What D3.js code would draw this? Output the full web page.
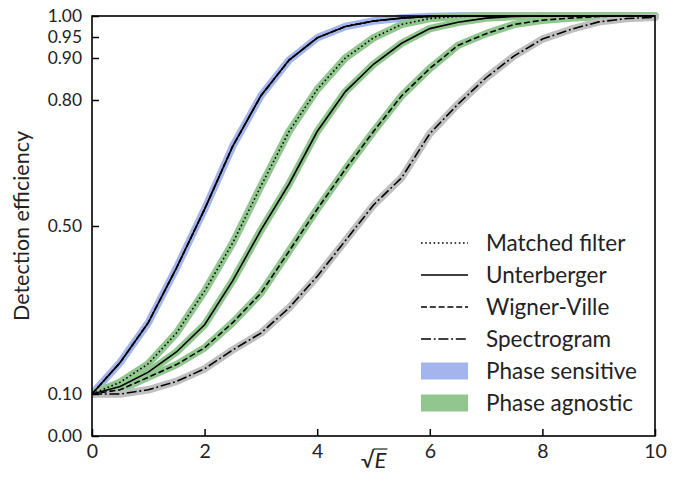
<!DOCTYPE html>
<html>
<head>
<meta charset="utf-8">
<script src="https://cdn.jsdelivr.net/npm/d3@7"></script>
<style>
  html, body { margin: 0; padding: 0; background: #fff; }
  svg text { font-family: Lato, "Open Sans", sans-serif; fill: #222; }
</style>
</head>
<body>
<svg id="chart" width="694" height="497"></svg>
<script>
// ---- data ----
const sqrtE = [0, 0.5, 1, 1.5, 2, 2.5, 3, 3.5, 4, 4.5, 5, 5.5, 6, 6.5, 7, 7.5, 8, 8.5, 9, 9.5, 10];
const phaseSensitive = [0.10, 0.175, 0.27, 0.40, 0.54, 0.69, 0.81, 0.895, 0.948, 0.975, 0.988, 0.995, 0.999, 1, 1, 1, 1, 1, 1, 1, 1];
const matchedAgnostic = [0.10, 0.128, 0.172, 0.245, 0.345, 0.46, 0.595, 0.725, 0.825, 0.9, 0.948, 0.98, 0.994, 0.999, 1, 1, 1, 1, 1, 1, 1];
const unterbergerAgnostic = [0.10, 0.118, 0.152, 0.20, 0.265, 0.37, 0.49, 0.60, 0.725, 0.82, 0.885, 0.935, 0.97, 0.985, 0.995, 0.999, 1, 1, 1, 1, 1];
const wignerAgnostic = [0.10, 0.11, 0.14, 0.17, 0.21, 0.27, 0.34, 0.44, 0.54, 0.635, 0.725, 0.81, 0.875, 0.93, 0.958, 0.98, 0.99, 0.995, 0.999, 1, 1];
const spectrogram = [0.10, 0.10, 0.11, 0.13, 0.16, 0.205, 0.245, 0.305, 0.38, 0.465, 0.55, 0.615, 0.72, 0.79, 0.853, 0.905, 0.945, 0.968, 0.986, 0.994, 0.997];
const xTicks = [0, 2, 4, 6, 8, 10];
const yTicks = [0.00, 0.10, 0.50, 0.80, 0.90, 0.95, 1.00];
const legendLabels = ["Matched filter", "Unterberger", "Wigner-Ville", "Spectrogram", "Phase sensitive", "Phase agnostic"];

// ---- layout ----
const svg = d3.select("#chart");
const L = 92, R = 655, T = 16, B = 436;
const x = d3.scaleLinear().domain([0, 10]).range([L, R]);
const y = d3.scaleLinear().domain([0, 1]).range([B, T]);

const colBlue = "#a3b5ec", colGreen = "#91c68f", colGray = "#bfbfbf";
const styles = {
  dotted: "1.6,2.6",
  solid: null,
  dashed: "6,2.8",
  dashdot: "10,2.8,1.8,2.8"
};

const series = [
  { vals: phaseSensitive, band: colBlue, lines: ["solid", "dashed", "dotted"] },
  { vals: matchedAgnostic, band: colGreen, lines: ["dotted"] },
  { vals: unterbergerAgnostic, band: colGreen, lines: ["solid"] },
  { vals: wignerAgnostic, band: colGreen, lines: ["dashed"] },
  { vals: spectrogram, band: colGray, lines: ["dashdot"] }
];

const line = d3.line().x(d => x(d[0])).y(d => y(d[1]));
const gPlot = svg.append("g");
svg.append("clipPath").attr("id", "clip").append("rect")
  .attr("x", L).attr("y", T - 4).attr("width", R - L + 4).attr("height", B - T + 4);
gPlot.attr("clip-path", "url(#clip)");

series.forEach(s => {
  const pts = sqrtE.map((v, i) => [v, s.vals[i]]);
  gPlot.append("path").attr("d", line(pts)).attr("fill", "none")
    .attr("stroke", s.band).attr("stroke-width", 7.5).attr("stroke-linejoin", "round").attr("stroke-linecap", "round");
});
series.forEach(s => {
  const pts = sqrtE.map((v, i) => [v, s.vals[i]]);
  s.lines.forEach(st => {
    gPlot.append("path").attr("d", line(pts)).attr("fill", "none")
      .attr("stroke", "#000").attr("stroke-width", 1.6)
      .attr("stroke-dasharray", styles[st]);
  });
});

// ---- axes ----
const xAxis = d3.axisBottom(x).tickValues(xTicks).tickSizeInner(-7).tickSizeOuter(0).tickPadding(8)
  .tickFormat(d3.format("d"));
const yAxis = d3.axisLeft(y).tickValues(yTicks).tickSizeInner(-7).tickSizeOuter(0).tickPadding(10)
  .tickFormat(d3.format(".2f"));
const gx = svg.append("g").attr("transform", `translate(0,${B})`).call(xAxis);
const gy = svg.append("g").attr("transform", `translate(${L},0)`).call(yAxis);
[gx, gy].forEach(g => {
  g.select(".domain").remove();
  g.selectAll(".tick line").attr("stroke", "#000").attr("stroke-width", 1.5);
  g.selectAll(".tick text").attr("fill", "#222").attr("font-family", "Lato, sans-serif");
});
gx.selectAll(".tick text").attr("font-size", 19.5);
gy.selectAll(".tick text").attr("font-size", 17.4);
// frame
svg.append("rect").attr("x", L).attr("y", T).attr("width", R - L).attr("height", B - T)
  .attr("fill", "none").attr("stroke", "#000").attr("stroke-width", 1.6);

// axis labels
svg.append("text").attr("transform", `translate(29,${(T + B) / 2}) rotate(-90)`)
  .attr("text-anchor", "middle").attr("font-size", 21.5).text("Detection efficiency");
const xl = svg.append("text").attr("x", (L + R) / 2).attr("y", 468).attr("text-anchor", "middle").attr("font-size", 22);
xl.append("tspan").text("√");
const eSpan = xl.append("tspan").attr("font-style", "italic").text("E");
const eb = eSpan.node().getBBox();
svg.append("line").attr("x1", eb.x - 1).attr("x2", eb.x + eb.width + 1)
  .attr("y1", eb.y + 3).attr("y2", eb.y + 3).attr("stroke", "#222").attr("stroke-width", 1.2);

// ---- legend ----
const legY0 = 243, legDy = 32, lx0 = 421, lx1 = 468, tx = 486;
const legendItems = [
  { type: "line", st: "dotted" },
  { type: "line", st: "solid" },
  { type: "line", st: "dashed" },
  { type: "line", st: "dashdot" },
  { type: "patch", col: colBlue },
  { type: "patch", col: colGreen }
];
const gl = svg.append("g");
legendItems.forEach((it, i) => {
  const cy = legY0 + i * legDy;
  if (it.type === "line") {
    gl.append("line").attr("x1", lx0).attr("x2", lx1).attr("y1", cy).attr("y2", cy)
      .attr("stroke", "#000").attr("stroke-width", 1.6).attr("stroke-dasharray", styles[it.st]);
  } else {
    gl.append("rect").attr("x", lx0).attr("y", cy - 8.5).attr("width", lx1 - lx0).attr("height", 17).attr("fill", it.col);
  }
  gl.append("text").attr("x", tx).attr("y", cy).attr("dy", "0.35em").attr("font-size", 22.5).text(legendLabels[i]);
});
</script>
</body>
</html>
